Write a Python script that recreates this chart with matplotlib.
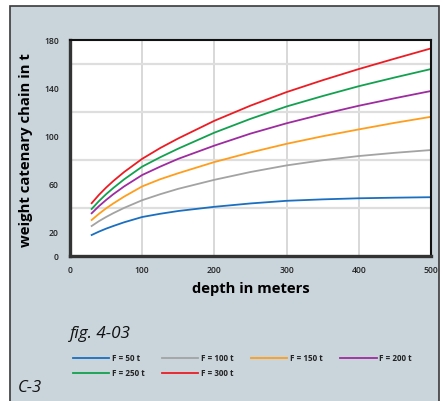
import numpy as np
import matplotlib
matplotlib.use('Agg')
import matplotlib.pyplot as plt
from matplotlib.patches import Rectangle

plt.rcParams['font.family'] = ['Open Sans', 'DejaVu Sans']

# depth in meters and weight of the catenary chain (t) per pretension F
depth = [30, 40, 50, 60, 75, 100, 125, 150, 200, 250, 300, 350, 400, 450, 500]
f50 = [17.5, 20.3, 22.8, 25.0, 28.1, 32.5, 35.2, 37.5, 41.0, 43.8, 46.0, 47.2, 48.1, 48.6, 49.0]
f100 = [25.0, 29.0, 32.5, 35.7, 40.1, 46.5, 51.5, 56.0, 63.5, 70.0, 75.5, 79.8, 83.3, 86.0, 88.3]
f150 = [30.0, 35.1, 39.7, 43.8, 49.5, 58.0, 64.0, 69.0, 78.3, 86.3, 93.5, 99.8, 105.5, 111.0, 116.0]
f200 = [35.6, 41.5, 46.7, 51.5, 58.0, 67.5, 74.5, 81.0, 92.0, 102.0, 110.6, 118.2, 125.2, 131.5, 137.5]
f250 = [39.2, 45.7, 51.5, 56.7, 63.9, 74.5, 82.3, 89.5, 102.8, 114.3, 124.6, 133.3, 141.5, 148.8, 155.8]
f300 = [44.0, 50.9, 57.0, 62.5, 70.0, 81.0, 90.0, 98.0, 112.7, 125.3, 136.6, 146.5, 155.8, 164.5, 173.0]

series = [f50, f100, f150, f200, f250, f300]
labels = ['F = 50 t', 'F = 100 t', 'F = 150 t', 'F = 200 t', 'F = 250 t', 'F = 300 t']
colors = ['#1a6fc0', '#a3a3a3', '#ff9d1c', '#9e2ba0', '#12a14f', '#ec1c24']

yticks = [0, 20, 60, 100, 140, 180]
xticks = [0, 100, 200, 300, 400, 500]

W, H = 442, 401
fig = plt.figure(figsize=(W / 100, H / 100), dpi=100)
fig.patch.set_facecolor('white')

# grey panel with dark border (no bottom edge visible)
panel = Rectangle((10 / W, -0.05), 429 / W, 1.05 - 6 / H, transform=fig.transFigure,
                  facecolor='#c9d4db', edgecolor='#3a3a3a', lw=1.2, zorder=-5)
fig.patches.append(panel)

ax = fig.add_axes([70 / W, 1 - 256 / H, 361 / W, 216 / H])
ax.set_zorder(2)
ax.set_facecolor('white')

lines = []
for vals, lab, c in zip(series, labels, colors):
    ln, = ax.plot(depth, vals, color=c, lw=1.3, label=lab)
    lines.append(ln)

ax.set_xlim(0, 500)
ax.set_ylim(0, 180)
ax.set_xticks(xticks)
ax.set_yticks(yticks)
ax.set_yticks(np.arange(0, 181, 20), minor=True)
ax.grid(axis='x', which='major', color='#d2d2d2', lw=1.2)
ax.grid(axis='y', which='minor', color='#dedede', lw=1.6)
ax.set_axisbelow(True)
ax.tick_params(which='both', length=0)
ax.tick_params(axis='y', pad=8, labelsize=6.2, labelcolor='#222222')
ax.tick_params(axis='x', pad=7, labelsize=6.2, labelcolor='#222222')
for t in ax.get_xticklabels() + ax.get_yticklabels():
    t.set_fontweight('semibold')

for s in ['left', 'bottom']:
    ax.spines[s].set_linewidth(2.4)
    ax.spines[s].set_color('#333333')
for s in ['top', 'right']:
    ax.spines[s].set_linewidth(1.5)
    ax.spines[s].set_color('#111111')

ax.set_xlabel('depth in meters', fontsize=10.6, fontweight='bold', labelpad=5)
ax.set_ylabel('weight catenary chain in t', fontsize=10.7, fontweight='bold')
ax.yaxis.set_label_coords(-37 / 361, 0.49)

fig.text(70 / W, 1 - 334 / H, 'fig. 4-03', fontsize=12.3, style='italic',
         va='center', ha='left', color='#111111')
fig.text(18 / W, 1 - 388 / H, 'C-3', fontsize=12, style='italic',
         va='center', ha='left', color='#111111')

order = [0, 4, 1, 5, 2, 3]
leg = fig.legend([lines[i] for i in order], [labels[i] for i in order],
                 ncol=4, frameon=False, loc='upper left',
                 bbox_to_anchor=(73 / W, 1 - 354 / H), fontsize=5.8,
                 handlelength=4.5, handletextpad=0.35, columnspacing=2.15,
                 labelspacing=0.75, borderaxespad=0, borderpad=0)
for t in leg.get_texts():
    t.set_fontweight('bold')
    t.set_color('#222222')

fig.savefig('out.png', dpi=100)
